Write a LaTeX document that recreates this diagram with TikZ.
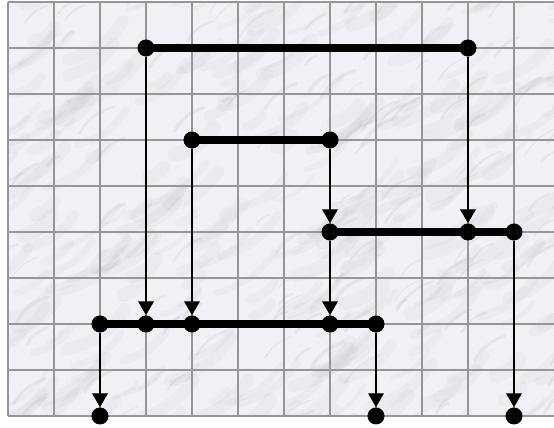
\documentclass[tikz,border=0pt]{standalone}
\usepackage{tikz}
\usetikzlibrary{arrows.meta}
\definecolor{MarbleBase}{RGB}{240,241,244}
\definecolor{VeinGray}{RGB}{110,112,120}
\definecolor{GridGray}{RGB}{150,150,152}

\begin{document}
\begin{tikzpicture}[
  dot/.style={circle,fill=black,inner sep=0pt,minimum size=0.37cm},
  bar/.style={line width=5.4pt},
  arr/.style={-{Triangle[width=0.34cm,length=0.3cm]},line width=0.8pt},
  gridline/.style={GridGray,line width=0.8pt}
]
  \useasboundingbox (-0.174,-0.261) rectangle (11.870,9.043);
  % marble slab
  \fill[MarbleBase] (0,0) rectangle (11.87,9);
  \begin{scope}
    \clip (0,0) rectangle (11.87,9);
    \pgfmathsetseed{42}
    \foreach \i in {1,...,260}{
      \pgfmathsetmacro\vx{rnd*12.5-0.5}
      \pgfmathsetmacro\vy{rnd*9.5-0.5}
      \pgfmathsetmacro\vl{0.3+rnd*1.1}
      \pgfmathsetmacro\vw{2+rnd*7}
      \draw[VeinGray,opacity=0.045,line width=\vw pt,line cap=round]
        (\vx,\vy) to[bend right=20] ++(\vl,0.7*\vl);
    }
    \foreach \i in {1,...,120}{
      \pgfmathsetmacro\vx{rnd*12.5-0.5}
      \pgfmathsetmacro\vy{rnd*9.5-0.5}
      \pgfmathsetmacro\vl{0.2+rnd*0.6}
      \pgfmathsetmacro\vw{0.6+rnd*1.6}
      \draw[VeinGray,opacity=0.08,line width=\vw pt,line cap=round]
        (\vx,\vy) to[bend left=20] ++(\vl,0.8*\vl);
    }
  \end{scope}
  \draw[gridline] (0,0) grid (11.87,9);

  \node[dot] (a1) at (3,8) {};
  \node[dot] (a2) at (10,8) {};
  \node[dot] (b1) at (4,6) {};
  \node[dot] (b2) at (7,6) {};
  \node[dot] (c1) at (7,4) {};
  \node[dot] (c2) at (10,4) {};
  \node[dot] (c3) at (11,4) {};
  \node[dot] (d1) at (2,2) {};
  \node[dot] (d2) at (3,2) {};
  \node[dot] (d3) at (4,2) {};
  \node[dot] (d4) at (7,2) {};
  \node[dot] (d5) at (8,2) {};
  \node[dot] (e1) at (2,0) {};
  \node[dot] (e2) at (8,0) {};
  \node[dot] (e3) at (11,0) {};

  \draw[bar] (a1.center)--(a2.center); \draw[bar] (b1.center)--(b2.center);
  \draw[bar] (c1.center)--(c3.center); \draw[bar] (d1.center)--(d5.center);

  \draw[arr] (a1)--(d2); \draw[arr] (b1)--(d3);
  \draw[arr] (b2)--(c1); \draw[arr] (a2)--(c2);
  \draw[arr] (c1)--(d4); \draw[arr] (c3)--(e3);
  \draw[arr] (d1)--(e1); \draw[arr] (d5)--(e2);
\end{tikzpicture}
\end{document}
